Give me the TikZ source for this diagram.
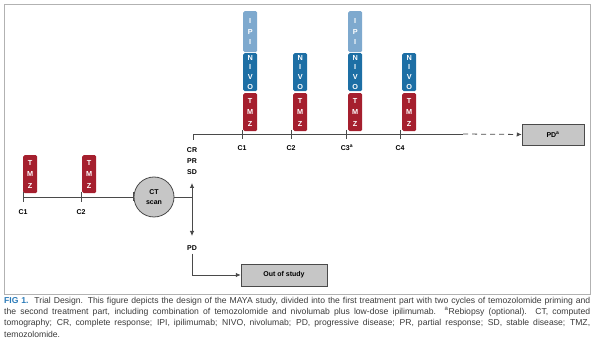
\documentclass[tikz,border=0pt]{standalone}
\usepackage{fontspec}
\setmainfont{Liberation Sans}
\newfontfamily\capfont{Liberation Sans}
\usetikzlibrary{arrows.meta,calc}
\definecolor{tmzc}{HTML}{A51F2E}
\definecolor{nivoc}{HTML}{1D6FA5}
\definecolor{ipic}{HTML}{7EA9CE}
\definecolor{boxgray}{HTML}{C6C6C6}
\definecolor{linegray}{HTML}{4A4A4A}
\definecolor{figblue}{HTML}{2A7AB8}
\definecolor{captext}{HTML}{3A3A3A}
\begin{document}
\begin{tikzpicture}[x=1pt,y=-1pt,
  drug/.style={draw=none, rounded corners=1.5pt, anchor=north west, minimum width=14pt,
    inner sep=0pt, text=white, align=center},
  tmzbox/.style={drug, fill=tmzc, minimum height=38pt, font=\bfseries\fontsize{7.3}{11.5}\selectfont},
  nivobox/.style={drug, fill=nivoc, minimum height=38pt, font=\bfseries\fontsize{7.3}{9.7}\selectfont},
  ipibox/.style={drug, fill=ipic, minimum height=41pt, font=\bfseries\fontsize{7.3}{10.5}\selectfont},
  lab/.style={font=\bfseries\fontsize{7}{11}\selectfont, text=black, inner sep=0pt, align=center},
  conn/.style={draw=linegray, line width=0.8pt},
  tip/.style={-{Latex[length=5pt,width=4.5pt]}},
  graybox/.style={draw=linegray, line width=0.5pt, fill=boxgray, inner sep=0pt,
    font=\bfseries\fontsize{7}{8}\selectfont}
]
\useasboundingbox (0,0) rectangle (600,363);
\draw[gray!60, line width=0.9pt] (4,4) rectangle (590,294);

% ---------- first part (priming) ----------
\node[tmzbox] (b1) at (23,155) {T\\M\\Z};
\node[tmzbox] (b2) at (82,155) {T\\M\\Z};
\coordinate (s1) at (23,197);
\coordinate (s2) at (81,197);
\node[circle, draw=linegray, line width=0.8pt, fill=boxgray, minimum size=40pt, inner sep=0pt,
  font=\bfseries\fontsize{7}{9.5}\selectfont, align=center] (ct) at (154,197) {CT\\scan};
\draw[conn, -{Bar[width=9pt]}] (s1) -- (ct.west);
\draw[conn] ($(s1)+(0,-5)$) -- ($(s1)+(0,5)$);
\draw[conn] ($(s2)+(0,-5)$) -- ($(s2)+(0,5)$);
\node[lab] (lc1) at (23,212) {C1};
\node[lab] (lc2) at (81,212) {C2};

% ---------- CT decision ----------
\coordinate (j) at (192,197);
\coordinate (up) at (192,183);
\coordinate (down) at (192,236);
\draw[conn] (ct.east) -- (j);
\draw[conn, tip] (j) -- (up);
\draw[conn, tip] (j) -- (down);
\node[lab] (resp) at (192,161) {CR\\PR\\SD};
\node[lab] (pd) at (192,248) {PD};
\node[graybox, minimum width=86pt, minimum height=22pt] (out) at (284,275) {Out of study};
\draw[conn, tip] ($(pd.south)+(0,3)$) |- (out.west);

% ---------- second part ----------
\coordinate (t0) at (193,134);
\coordinate (tsolid) at (463,134);
\node[graybox, minimum width=62pt, minimum height=21pt] (pdbox) at (553,134.5) {PD\textsuperscript{a}};
\draw[conn] ($(t0)+(0,6)$) -- (t0) -- (tsolid);
\draw[conn, dashed, dash pattern=on 5pt off 4pt, tip] (tsolid) -- (pdbox.west);
\foreach \x in {242, 291, 346, 400}{
  \draw[conn] (\x,130) -- (\x,139);
}
\node[lab] (k1) at (242,148) {C1};
\node[lab] (k2) at (291,148) {C2};
\node[lab] (k3) at (347,148) {C3\textsuperscript{a}};
\node[lab] (k4) at (400,148) {C4};

\node[ipibox] (i1) at (243,11) {I\\P\\I};
\node[nivobox] (n1) at (243,53) {N\\I\\V\\O};
\node[tmzbox] (m1) at (243,93) {T\\M\\Z};
\node[nivobox] (n2) at (293,53) {N\\I\\V\\O};
\node[tmzbox] (m2) at (293,93) {T\\M\\Z};
\node[ipibox] (i3) at (348,11) {I\\P\\I};
\node[nivobox] (n3) at (348,53) {N\\I\\V\\O};
\node[tmzbox] (m3) at (348,93) {T\\M\\Z};
\node[nivobox] (n4) at (402,53) {N\\I\\V\\O};
\node[tmzbox] (m4) at (402,93) {T\\M\\Z};

% ---------- caption ----------
\node[anchor=north west, inner sep=0pt, text width=586pt, align=justify,
  font=\capfont\fontsize{8.6}{11.2}\selectfont, text=captext] (cap) at (4,297) {%
{\bfseries\color{figblue}FIG 1.}\ \ Trial Design. This figure depicts the design of the MAYA study, divided into the first treatment part with two cycles of temozolomide priming and\linebreak
the second treatment part, including combination of temozolomide and nivolumab plus low-dose ipilimumab. \textsuperscript{a}Rebiopsy (optional). CT, computed\linebreak
tomography; CR, complete response; IPI, ipilimumab; NIVO, nivolumab; PD, progressive disease; PR, partial response; SD, stable disease; TMZ,\linebreak
temozolomide.};
\end{tikzpicture}
\end{document}
